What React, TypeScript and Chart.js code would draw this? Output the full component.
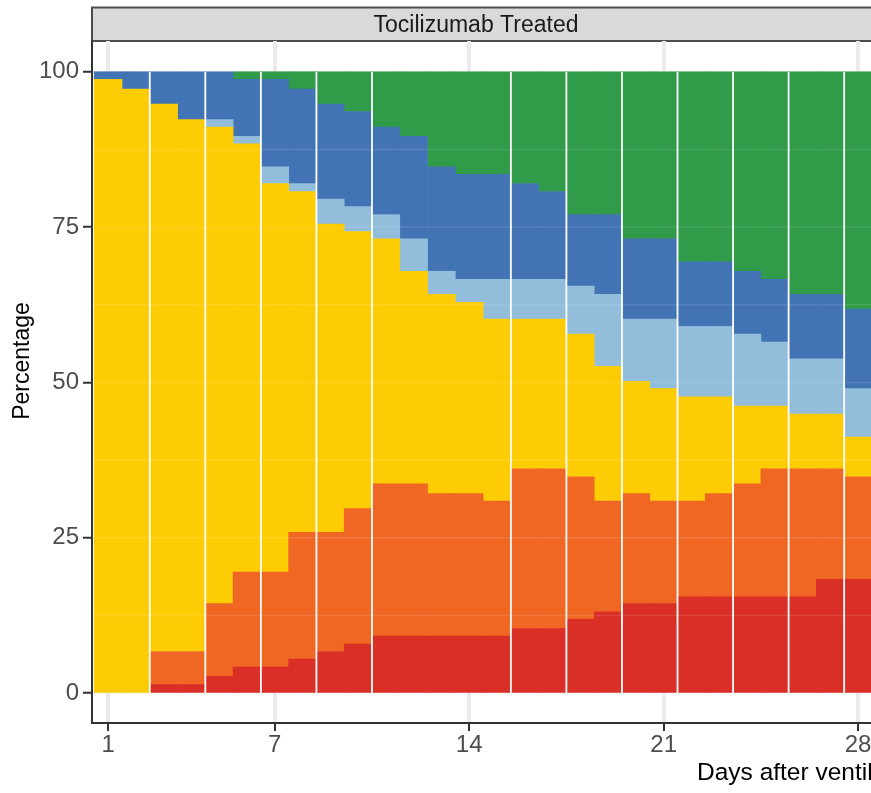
import React, { useEffect, useRef } from 'react';
import { Chart, registerables } from 'chart.js';

Chart.register(...registerables);

const FONT = '"Liberation Sans", Arial, Helvetica, sans-serif';

const days = [1, 2, 3, 4, 5, 6, 7, 8, 9, 10, 11, 12, 13, 14, 15, 16, 17, 18, 19, 20, 21, 22, 23, 24, 25, 26, 27, 28];

const level1 = [0, 0, 1.4, 1.4, 2.7, 4.2, 4.2, 5.5, 6.7, 7.9, 9.2, 9.2, 9.2, 9.2, 9.2, 10.4, 10.4, 11.9, 13.1, 14.4, 14.4, 15.5, 15.5, 15.5, 15.5, 15.5, 18.3, 18.3];
const level2 = [0, 0, 5.3, 5.3, 11.7, 15.3, 15.3, 20.4, 19.2, 21.8, 24.5, 24.5, 22.9, 22.9, 21.7, 25.7, 25.7, 22.9, 17.8, 17.7, 16.5, 15.4, 16.6, 18.2, 20.6, 20.6, 17.8, 16.5];
const level3 = [98.8, 97.2, 88.1, 85.6, 76.7, 68.9, 62.5, 54.8, 49.6, 44.6, 39.4, 34.2, 32.1, 30.8, 29.3, 24.1, 24.1, 23.0, 21.7, 18.1, 18.1, 16.8, 15.6, 12.5, 10.1, 8.8, 8.8, 6.4];
const level4 = [0, 0, 0, 0, 1.2, 1.2, 2.7, 1.3, 4.0, 4.0, 3.9, 5.2, 3.7, 3.7, 6.4, 6.4, 6.4, 7.7, 11.6, 10.0, 11.2, 11.3, 11.3, 11.6, 10.3, 8.9, 8.9, 7.8];
const level5 = [1.2, 2.8, 5.2, 7.7, 7.7, 9.2, 14.1, 15.2, 15.3, 15.3, 14.1, 16.5, 16.8, 16.9, 16.9, 15.4, 14.1, 11.5, 12.8, 12.9, 12.9, 10.4, 10.4, 10.1, 10.1, 10.4, 10.4, 12.8];
const level6 = [0, 0, 0, 0, 0, 1.2, 1.2, 2.8, 5.2, 6.4, 8.9, 10.4, 15.3, 16.5, 16.5, 18.0, 19.3, 23.0, 23.0, 26.9, 26.9, 30.6, 30.6, 32.1, 33.4, 35.8, 35.8, 38.2];

const seriesNames = ['Level 1', 'Level 2', 'Level 3', 'Level 4', 'Level 5', 'Level 6'];
const seriesColors = ['#D92F27', '#F06724', '#FECC04', '#92BEDC', '#4274B5', '#309B48'];
const seriesValues = [level1, level2, level3, level4, level5, level6];

const xTicks = [1, 7, 14, 21, 28];
const yTicks = [0, 25, 50, 75, 100];
const separatorAfterDays = [2, 4, 6, 8, 10, 15, 17, 19, 21, 23, 25, 27];
const faintLevels = [12.5, 25, 37.5, 50, 62.5, 75, 87.5];

const stripLabel = 'Tocilizumab Treated';
const xTitle = 'Days after ventilation';
const yTitle = 'Percentage';

const stripPlugin = {
  id: 'stripPlugin',
  beforeDraw(chart: any) {
    const { ctx, chartArea, width } = chart;
    const left = chartArea.left;
    ctx.save();
    ctx.fillStyle = '#D9D9D9';
    ctx.fillRect(left, 7, width - left, 34);
    ctx.strokeStyle = '#4D4D4D';
    ctx.lineWidth = 2;
    ctx.beginPath();
    ctx.moveTo(left - 1, 7.5);
    ctx.lineTo(width, 7.5);
    ctx.moveTo(left - 1, 41);
    ctx.lineTo(width, 41);
    ctx.moveTo(left, 6.5);
    ctx.lineTo(left, 42);
    ctx.stroke();
    ctx.fillStyle = '#1A1A1A';
    ctx.font = `23px ${FONT}`;
    ctx.textAlign = 'center';
    ctx.textBaseline = 'alphabetic';
    ctx.fillText(stripLabel, left + 384, 31.5);
    ctx.restore();
  },
};

const separatorPlugin = {
  id: 'separatorPlugin',
  afterDatasetsDraw(chart: any) {
    const { ctx, chartArea } = chart;
    const xs = chart.scales.x;
    const ys = chart.scales.y;
    const top = ys.getPixelForValue(100);
    const bottom = ys.getPixelForValue(0);
    ctx.save();
    ctx.beginPath();
    ctx.rect(chartArea.left, chartArea.top, chartArea.right - chartArea.left, chartArea.bottom - chartArea.top);
    ctx.clip();
    ctx.strokeStyle = 'rgba(255,255,255,0.10)';
    ctx.lineWidth = 1.5;
    ctx.beginPath();
    faintLevels.forEach((v) => {
      const y = ys.getPixelForValue(v);
      ctx.moveTo(chartArea.left, y);
      ctx.lineTo(chartArea.right, y);
    });
    ctx.stroke();
    ctx.strokeStyle = '#FFFFFF';
    ctx.lineWidth = 1.8;
    ctx.beginPath();
    separatorAfterDays.forEach((d) => {
      const x = xs.getPixelForValue(d + 0.5);
      ctx.moveTo(x, top);
      ctx.lineTo(x, bottom);
    });
    ctx.stroke();
    ctx.restore();
  },
};

const titlePlugin = {
  id: 'titlePlugin',
  afterDraw(chart: any) {
    const { ctx } = chart;
    ctx.save();
    ctx.fillStyle = '#000000';
    ctx.font = `24.5px ${FONT}`;
    ctx.textAlign = 'left';
    ctx.textBaseline = 'alphabetic';
    ctx.fillText(xTitle, 697, 780);
    ctx.translate(28.5, 361);
    ctx.rotate(-Math.PI / 2);
    ctx.font = `23px ${FONT}`;
    ctx.textAlign = 'center';
    ctx.fillText(yTitle, 0, 0);
    ctx.restore();
  },
};

export default function App() {
  const canvasRef = useRef<HTMLCanvasElement | null>(null);

  useEffect(() => {
    const canvas = canvasRef.current;
    if (!canvas) return;
    const datasets = seriesValues.map((vals, si) => ({
      label: seriesNames[si],
      data: days.map((d, i) => ({ x: d, y: vals[i] === 0 ? null : vals[i] })),
      backgroundColor: seriesColors[si],
      borderWidth: 0,
      barPercentage: 1,
      categoryPercentage: 1,
      stack: 'all',
    }));

    const chart = new Chart(canvas, {
      type: 'bar',
      data: { datasets } as any,
      options: {
        responsive: false,
        animation: false,
        events: [],
        layout: { padding: { top: 41, left: 0, right: 0, bottom: 0 } },
        plugins: {
          legend: { display: false },
          tooltip: { enabled: false },
          title: { display: false },
        },
        scales: {
          x: {
            type: 'linear',
            stacked: true,
            min: 0.42,
            max: 28.79,
            offset: false,
            afterBuildTicks: (s: any) => {
              s.ticks = xTicks.map((v) => ({ value: v }));
            },
            afterFit: (s: any) => {
              s.height = 70;
            },
            grid: {
              offset: false,
              color: '#EBEBEB',
              lineWidth: 4,
              tickLength: 8,
              tickColor: '#333333',
              tickWidth: 2,
              drawOnChartArea: true,
            },
            border: { display: true, color: '#333333', width: 2 },
            ticks: {
              color: '#4D4D4D',
              font: { family: FONT, size: 24 },
              padding: 0,
              maxRotation: 0,
              autoSkip: false,
              callback: (v: any) => String(v),
            },
          },
          y: {
            type: 'linear',
            stacked: true,
            min: -4.8,
            max: 104.95,
            afterBuildTicks: (s: any) => {
              s.ticks = yTicks.map((v) => ({ value: v }));
            },
            afterFit: (s: any) => {
              s.width = 92;
            },
            grid: {
              offset: false,
              color: '#EBEBEB',
              lineWidth: 1.5,
              tickLength: 9,
              tickColor: '#333333',
              tickWidth: 2,
            },
            border: { display: true, color: '#333333', width: 2 },
            ticks: {
              color: '#4D4D4D',
              font: { family: FONT, size: 24 },
              padding: 4,
              callback: (v: any) => String(v),
            },
          },
        },
      } as any,
      plugins: [stripPlugin, separatorPlugin, titlePlugin],
    });

    return () => {
      chart.destroy();
    };
  }, []);

  return (
    <div
      style={{
        position: 'fixed',
        left: 0,
        top: 0,
        width: 871,
        height: 793,
        overflow: 'hidden',
        background: '#FFFFFF',
      }}
    >
      <canvas
        ref={canvasRef}
        width={880}
        height={793}
        style={{ display: 'block', width: 880, height: 793 }}
      />
    </div>
  );
}
